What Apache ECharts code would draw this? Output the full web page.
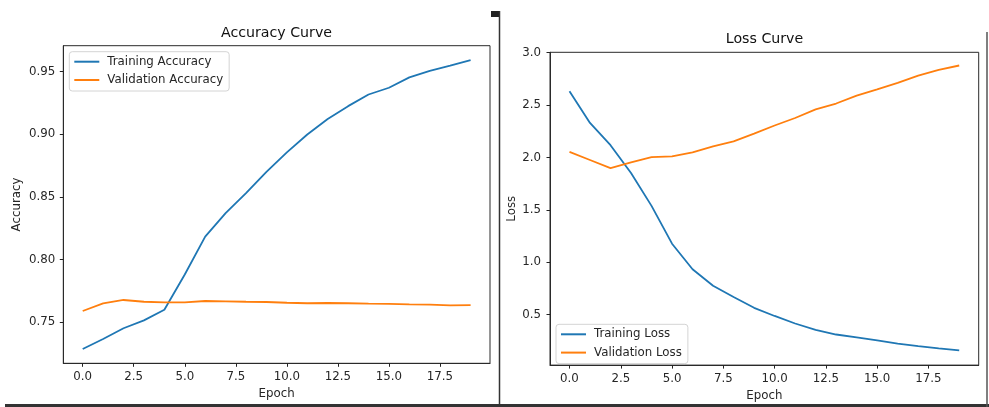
<!DOCTYPE html>
<html>
<head>
<meta charset="utf-8">
<script src="https://cdn.jsdelivr.net/npm/echarts@6/dist/echarts.min.js"></script>
<style>
html,body{margin:0;padding:0;background:#fff;}
#chart{width:989px;height:407px;}
</style>
</head>
<body>
<div id="chart"></div>
<script>
const epochs = [0,1,2,3,4,5,6,7,8,9,10,11,12,13,14,15,16,17,18,19];
const trainAcc = [0.7284,0.7364,0.7450,0.7513,0.7598,0.7880,0.8182,0.8370,0.8530,0.8700,0.8856,0.8998,0.9122,0.9225,0.9318,0.9372,0.9455,0.9506,0.9548,0.9593];
const valAcc = [0.7588,0.7649,0.7676,0.7662,0.7657,0.7657,0.7668,0.7665,0.7662,0.7660,0.7654,0.7650,0.7652,0.7650,0.7647,0.7645,0.7641,0.7639,0.7633,0.7635];
const trainLoss = [2.633,2.330,2.117,1.851,1.538,1.177,0.933,0.776,0.668,0.565,0.487,0.415,0.355,0.310,0.283,0.255,0.224,0.200,0.178,0.159];
const valLoss = [2.054,1.976,1.898,1.954,2.004,2.010,2.048,2.107,2.154,2.227,2.305,2.377,2.459,2.515,2.590,2.650,2.712,2.781,2.837,2.878];
const xTicks = [0,2.5,5,7.5,10,12.5,15,17.5];
const accTicks = [0.75,0.80,0.85,0.90,0.95];
const lossTicks = [0.5,1.0,1.5,2.0,2.5,3.0];

const FONT = 'DejaVu Sans';
const FS = 11.8;
const TXT = '#262626';
const pairs = (ys) => epochs.map((e, i) => [e, ys[i]]);

function xAxisCfg(gridIndex, nameGap) {
  return {
    type: 'value', gridIndex, min: -0.95, max: 19.95,
    name: 'Epoch', nameLocation: 'middle', nameGap,
    nameTextStyle: {fontFamily: FONT, fontSize: FS, color: TXT},
    axisLine: {show: true, onZero: false, lineStyle: {color: '#2a2a2a', width: 1}},
    splitLine: {show: false},
    axisTick: {show: true, inside: false, length: 3.5, customValues: xTicks, lineStyle: {color: '#222', width: 1}},
    axisLabel: {show: true, margin: 8, customValues: xTicks, fontFamily: FONT, fontSize: FS, color: TXT,
      formatter: v => v.toFixed(1)}
  };
}
function yAxisCfg(gridIndex, min, max, ticks, name, nameGap, dec, margin) {
  return {
    type: 'value', gridIndex, min, max,
    name, nameLocation: 'middle', nameGap,
    nameTextStyle: {fontFamily: FONT, fontSize: FS, color: TXT},
    axisLine: {show: true, onZero: false, lineStyle: {color: '#2a2a2a', width: 1}},
    splitLine: {show: false},
    axisTick: {show: true, inside: false, length: 3.5, customValues: ticks, lineStyle: {color: '#222', width: 1}},
    axisLabel: {show: true, margin, customValues: ticks, fontFamily: FONT, fontSize: FS, color: TXT,
      formatter: v => v.toFixed(dec)}
  };
}
function legendCfg(names, left, top) {
  return {
    data: names, orient: 'vertical', left, top,
    icon: 'rect', itemWidth: 25, itemHeight: 2, itemGap: 6.3,
    padding: [4, 6, 5, 5],
    borderColor: '#d4d4d4', borderWidth: 1, borderRadius: 3,
    backgroundColor: 'rgba(255,255,255,0.85)',
    textStyle: {fontFamily: FONT, fontSize: FS, color: TXT, padding: [0, 0, 0, 3]},
    selectedMode: false
  };
}

const chart = echarts.init(document.getElementById('chart'), null, {renderer: 'canvas'});
chart.setOption({
  animation: false,
  backgroundColor: '#fff',
  title: [
    {text: 'Accuracy Curve', left: 276.5, top: 26, padding: 0, textAlign: 'center',
      textStyle: {fontFamily: FONT, fontSize: 14.2, fontWeight: 'normal', color: '#111'}},
    {text: 'Loss Curve', left: 764.5, top: 32, padding: 0, textAlign: 'center',
      textStyle: {fontFamily: FONT, fontSize: 14.2, fontWeight: 'normal', color: '#111'}}
  ],
  grid: [
    {left: 63.3, top: 45.7, width: 426.7, height: 317.6, show: true, borderColor: '#2a2a2a', borderWidth: 1, backgroundColor: 'transparent'},
    {left: 550, top: 52.3, width: 428.7, height: 317.7, show: true, borderColor: '#2a2a2a', borderWidth: 1, backgroundColor: 'transparent'}
  ],
  xAxis: [xAxisCfg(0, 24.7), xAxisCfg(1, 23.3)],
  yAxis: [
    yAxisCfg(0, 0.717, 0.9708, accTicks, 'Accuracy', 40.6, 2, 8),
    yAxisCfg(1, 0.018, 3.004, lossTicks, 'Loss', 32.3, 1, 9)
  ],
  legend: [
    legendCfg(['Training Accuracy', 'Validation Accuracy'], 69.3, 51.7),
    legendCfg(['Training Loss', 'Validation Loss'], 556, 324.3)
  ],
  series: [
    {name: 'Training Accuracy', type: 'line', xAxisIndex: 0, yAxisIndex: 0, data: pairs(trainAcc),
      symbol: 'none', color: '#1f77b4', lineStyle: {width: 1.8, color: '#1f77b4'}},
    {name: 'Validation Accuracy', type: 'line', xAxisIndex: 0, yAxisIndex: 0, data: pairs(valAcc),
      symbol: 'none', color: '#ff7f0e', lineStyle: {width: 1.8, color: '#ff7f0e'}},
    {name: 'Training Loss', type: 'line', xAxisIndex: 1, yAxisIndex: 1, data: pairs(trainLoss),
      symbol: 'none', color: '#1f77b4', lineStyle: {width: 1.8, color: '#1f77b4'}},
    {name: 'Validation Loss', type: 'line', xAxisIndex: 1, yAxisIndex: 1, data: pairs(valLoss),
      symbol: 'none', color: '#ff7f0e', lineStyle: {width: 1.8, color: '#ff7f0e'}}
  ],
  graphic: [
    {type: 'rect', shape: {x: 491, y: 11, width: 9, height: 6}, style: {fill: '#222'}, z: 100},
    {type: 'line', shape: {x1: 499.5, y1: 11, x2: 499.5, y2: 407}, style: {stroke: '#333', lineWidth: 1.5}, z: 100},
    {type: 'line', shape: {x1: 5, y1: 405.5, x2: 989, y2: 405.5}, style: {stroke: '#333', lineWidth: 3}, z: 100},
    {type: 'line', shape: {x1: 987, y1: 32, x2: 987, y2: 407}, style: {stroke: '#555', lineWidth: 1.5}, z: 100}
  ]
});
</script>
</body>
</html>
